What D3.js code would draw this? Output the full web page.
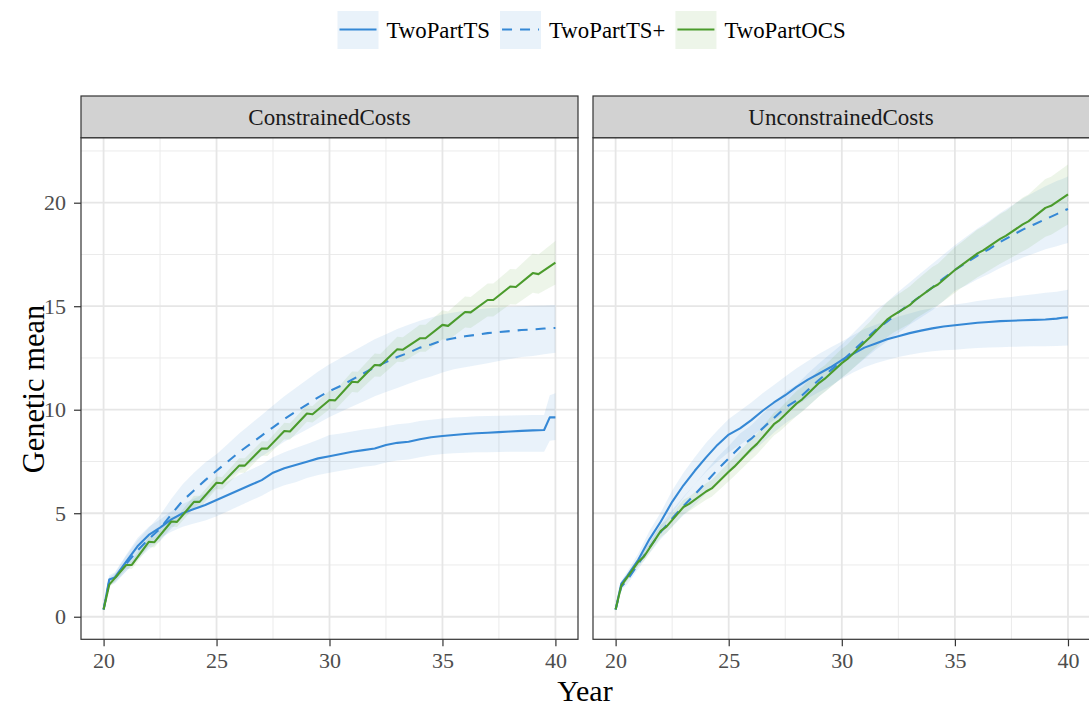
<!DOCTYPE html>
<html><head><meta charset="utf-8">
<script src="https://cdn.jsdelivr.net/npm/d3@7"></script>
<style>
body{margin:0;background:#fff}
text{font-family:"Liberation Serif","Times New Roman",serif}
</style>
</head><body>
<svg id="c" width="1089" height="709"></svg>
<script>
// ---------------- data ----------------
const panelNames = ["ConstrainedCosts", "UnconstrainedCosts"];
const seriesNames = ["TwoPartTS", "TwoPartTS+", "TwoPartOCS"];
const xTicks = [20, 25, 30, 35, 40];
const xMinor = [22.5, 27.5, 32.5, 37.5];
const yTicks = [0, 5, 10, 15, 20];
const yMinor = [2.5, 7.5, 12.5, 17.5, 22.5];
const xLabel = "Year";
const yLabel = "Genetic mean";

const yearsTS = [20,20.25,20.5,21,21.5,22,22.5,23,23.5,24,24.5,25,25.5,26,26.5,27,27.5,28,28.5,29,29.5,30,30.5,31,31.5,32,32.5,33,33.5,34,34.5,35,35.5,36,36.5,37,37.5,38,38.5,39,39.5,39.75,40];
const yearsOCS = [20,20.25,21,21.25,22,22.25,23,23.25,24,24.25,25,25.25,26,26.25,27,27.25,28,28.25,29,29.25,30,30.25,31,31.25,32,32.25,33,33.25,34,34.25,35,35.25,36,36.25,37,37.25,38,38.25,39,39.25,40];

// ConstrainedCosts
const conTS    = [0.35,1.8,1.9,2.66,3.4,3.95,4.3,4.7,5.0,5.2,5.4,5.64,5.88,6.12,6.36,6.6,6.96,7.17,7.33,7.49,7.65,7.75,7.86,7.97,8.05,8.13,8.3,8.4,8.45,8.57,8.67,8.73,8.78,8.83,8.86,8.89,8.92,8.95,8.98,9.0,9.02,9.63,9.63];
const conTSlo  = [0.3,1.6,1.65,2.2,2.8,3.4,3.8,4.1,4.35,4.5,4.65,4.85,5.1,5.35,5.6,5.85,6.15,6.35,6.5,6.7,6.85,6.95,7.05,7.15,7.25,7.3,7.45,7.55,7.6,7.7,7.8,7.86,7.9,7.92,7.94,7.95,7.96,7.97,7.97,7.97,7.97,8.5,8.54];
const conTShi  = [0.4,2.0,2.15,3.0,3.8,4.35,4.7,5.1,5.45,5.7,5.95,6.28,6.55,6.85,7.1,7.35,7.7,7.95,8.15,8.35,8.55,8.78,8.85,8.95,9.05,9.1,9.2,9.3,9.35,9.45,9.52,9.58,9.62,9.65,9.68,9.7,9.71,9.72,9.73,9.74,9.74,10.7,10.8];
const conTSp   = [0.35,1.7,1.85,2.55,3.2,3.75,4.25,4.95,5.6,6.1,6.6,7.05,7.5,7.95,8.35,8.75,9.15,9.55,9.9,10.25,10.6,10.9,11.15,11.45,11.75,12.05,12.3,12.55,12.75,13.0,13.15,13.35,13.45,13.55,13.62,13.7,13.75,13.8,13.85,13.88,13.92,13.94,13.95];
const conTSplo = [0.3,1.5,1.6,2.2,2.75,3.25,3.65,4.25,4.8,5.25,5.7,6.25,6.65,7.05,7.4,7.75,8.1,8.45,8.75,9.05,9.35,9.65,9.9,10.15,10.4,10.65,10.85,11.05,11.25,11.45,11.6,11.8,11.95,12.05,12.15,12.25,12.35,12.45,12.55,12.6,12.68,12.72,12.75];
const conTSphi = [0.4,1.9,2.1,2.95,3.7,4.3,4.9,5.7,6.4,6.95,7.45,7.85,8.35,8.85,9.3,9.75,10.2,10.65,11.05,11.45,11.85,12.2,12.5,12.8,13.1,13.4,13.65,13.9,14.1,14.3,14.45,14.6,14.7,14.78,14.84,14.9,14.94,14.97,15.0,15.02,15.04,15.05,15.06];
const conOCS   = [0.35,1.55,2.5,2.5,3.62,3.6,4.6,4.58,5.55,5.55,6.47,6.45,7.3,7.3,8.13,8.12,8.97,8.95,9.82,9.78,10.47,10.45,11.35,11.33,12.16,12.14,12.92,12.9,13.45,13.45,14.1,14.05,14.72,14.7,15.3,15.3,15.95,15.93,16.6,16.55,17.1];
const conOCSlo = [0.3,1.4,2.3,2.3,3.37,3.35,4.35,4.33,5.25,5.25,6.17,6.15,6.95,6.95,7.78,7.77,8.57,8.55,9.42,9.38,10.02,10.0,10.85,10.83,11.61,11.59,12.32,12.3,12.8,12.8,13.4,13.35,13.97,13.95,14.5,14.5,15.1,15.08,15.65,15.6,16.05];
const conOCShi = [0.4,1.7,2.7,2.7,3.87,3.85,4.85,4.83,5.85,5.85,6.77,6.75,7.65,7.65,8.48,8.47,9.37,9.35,10.22,10.18,10.92,10.9,11.85,11.83,12.71,12.69,13.52,13.5,14.1,14.1,14.8,14.75,15.47,15.45,16.1,16.1,16.8,16.78,17.55,17.5,18.15];

// UnconstrainedCosts
const unTS    = [0.35,1.6,1.95,2.75,3.75,4.6,5.55,6.35,7.05,7.7,8.3,8.8,9.1,9.5,9.95,10.35,10.7,11.1,11.45,11.75,12.05,12.4,12.7,13.0,13.2,13.4,13.55,13.7,13.82,13.93,14.02,14.08,14.14,14.2,14.24,14.28,14.3,14.32,14.34,14.36,14.4,14.44,14.46];
const unTSlo  = [0.3,1.45,1.75,2.45,3.35,4.15,5.0,5.75,6.4,7.0,7.5,7.95,8.3,8.7,9.1,9.5,9.85,10.2,10.55,10.85,11.15,11.5,11.8,12.05,12.25,12.4,12.55,12.65,12.75,12.82,12.87,12.9,12.95,12.98,13.0,13.02,13.04,13.05,13.06,13.07,13.08,13.09,13.1];
const unTShi  = [0.4,1.75,2.15,3.05,4.15,5.05,6.1,6.95,7.7,8.4,9.0,9.55,9.95,10.35,10.8,11.2,11.6,12.0,12.35,12.7,13.0,13.3,13.6,13.9,14.1,14.3,14.5,14.65,14.8,14.9,15.0,15.08,15.15,15.25,15.32,15.4,15.45,15.52,15.58,15.65,15.7,15.75,15.8];
const unTSp   = [0.35,1.45,1.75,2.55,3.35,4.1,4.75,5.35,5.9,6.5,7.1,7.65,8.2,8.6,9.1,9.6,10.1,10.45,10.95,11.45,11.9,12.35,12.85,13.35,13.85,14.25,14.7,15.1,15.5,15.9,16.35,16.75,17.1,17.45,17.75,18.1,18.4,18.7,18.95,19.2,19.45,19.58,19.7];
const unTSplo = [0.3,1.3,1.55,2.3,3.05,3.75,4.35,4.9,5.4,5.95,6.5,7.05,7.55,7.95,8.4,8.9,9.35,9.7,10.15,10.65,11.1,11.55,12.0,12.45,12.9,13.3,13.7,14.1,14.45,14.8,15.25,15.75,16.0,16.3,16.55,16.85,17.1,17.35,17.55,17.75,17.9,17.98,18.05];
const unTSphi = [0.4,1.6,1.95,2.8,3.65,4.45,5.15,5.8,6.4,7.05,7.7,8.25,8.85,9.25,9.8,10.3,10.85,11.2,11.75,12.25,12.7,13.15,13.7,14.25,14.8,15.2,15.7,16.15,16.6,17.05,17.5,17.95,18.35,18.75,19.1,19.5,19.85,20.2,20.5,20.8,21.05,21.15,21.26];
const unOCS   = [0.35,1.5,2.65,2.9,4.15,4.35,5.3,5.45,6.05,6.2,7.0,7.25,8.1,8.35,9.3,9.5,10.3,10.5,11.3,11.5,12.25,12.45,13.25,13.5,14.35,14.55,15.05,15.3,15.9,16.05,16.75,16.95,17.55,17.7,18.25,18.4,18.95,19.1,19.75,19.85,20.4];
const unOCSlo = [0.3,1.35,2.45,2.7,3.85,4.05,4.95,5.1,5.65,5.8,6.55,6.8,7.6,7.85,8.75,8.95,9.7,9.9,10.65,10.85,11.55,11.75,12.5,12.75,13.5,13.7,14.15,14.4,14.9,15.05,15.65,15.85,16.4,16.55,17.05,17.2,17.65,17.8,18.35,18.45,18.95];
const unOCShi = [0.4,1.65,2.85,3.1,4.45,4.65,5.65,5.8,6.45,6.6,7.45,7.7,8.6,8.85,9.85,10.05,10.9,11.1,11.95,12.15,12.95,13.15,14.0,14.25,15.2,15.4,15.95,16.2,16.9,17.05,17.85,18.05,18.7,18.85,19.45,19.6,20.25,20.4,21.15,21.25,21.85];

// ---------------- build table ----------------
function mk(years, m, lo, hi){ return years.map((x,i)=>({x, y:m[i], lo:lo[i], hi:hi[i]})); }
const panelData = [
  [mk(yearsTS, conTS, conTSlo, conTShi), mk(yearsTS, conTSp, conTSplo, conTSphi), mk(yearsOCS, conOCS, conOCSlo, conOCShi)],
  [mk(yearsTS, unTS, unTSlo, unTShi), mk(yearsTS, unTSp, unTSplo, unTSphi), mk(yearsOCS, unOCS, unOCSlo, unOCShi)]
];

// ---------------- style / layout ----------------
const colors = ["#3588d5", "#3588d5", "#4b9b2c"];
const dashes = [null, "10,8", null];
const W = 1089, H = 709;
const panelX = [[81, 578], [593, 1090.6]];
const stripTop = 96, panelTop = 137.7, panelBottom = 639.3;
const FONT = '"Liberation Serif","Times New Roman",serif';
const svg = d3.select("#c");
svg.append("rect").attr("width", W).attr("height", H).attr("fill", "#fff");

const y = d3.scaleLinear().domain([-1.09, 23.14]).range([panelBottom, panelTop]);

panelData.forEach((series, p) => {
  const [x0, x1] = panelX[p];
  const x = d3.scaleLinear().domain([19, 41]).range([x0, x1]);
  const g = svg.append("g");
  g.append("clipPath").attr("id", "clip" + p).append("rect")
    .attr("x", x0).attr("y", panelTop).attr("width", x1 - x0).attr("height", panelBottom - panelTop);

  // grid
  const grid = g.append("g").attr("clip-path", `url(#clip${p})`);
  grid.selectAll(".ymin").data(yMinor).join("line")
    .attr("x1", x0).attr("x2", x1).attr("y1", d => y(d)).attr("y2", d => y(d))
    .attr("stroke", "#ebebeb").attr("stroke-width", 1);
  grid.selectAll(".xmin").data(xMinor).join("line")
    .attr("y1", panelTop).attr("y2", panelBottom).attr("x1", d => x(d)).attr("x2", d => x(d))
    .attr("stroke", "#ebebeb").attr("stroke-width", 1);
  grid.selectAll(".ymaj").data(yTicks).join("line")
    .attr("x1", x0).attr("x2", x1).attr("y1", d => y(d)).attr("y2", d => y(d))
    .attr("stroke", "#e6e6e6").attr("stroke-width", 1.8);
  grid.selectAll(".xmaj").data(xTicks).join("line")
    .attr("y1", panelTop).attr("y2", panelBottom).attr("x1", d => x(d)).attr("x2", d => x(d))
    .attr("stroke", "#e6e6e6").attr("stroke-width", 1.8);

  const data = g.append("g").attr("clip-path", `url(#clip${p})`);
  const area = d3.area().x(d => x(d.x)).y0(d => y(d.lo)).y1(d => y(d.hi));
  const line = d3.line().x(d => x(d.x)).y(d => y(d.y));
  series.forEach((s, i) => {
    data.append("path").attr("d", area(s)).attr("fill", colors[i])
      .attr("fill-opacity", i === 2 ? 0.1 : 0.11);
  });
  series.forEach((s, i) => {
    data.append("path").attr("d", line(s)).attr("fill", "none")
      .attr("stroke", colors[i]).attr("stroke-width", 2.1)
      .attr("stroke-dasharray", dashes[i]).attr("stroke-linejoin", "round");
  });

  // border
  g.append("rect").attr("x", x0).attr("y", panelTop).attr("width", x1 - x0).attr("height", panelBottom - panelTop)
    .attr("fill", "none").attr("stroke", "#333").attr("stroke-width", 1.2);
  // strip
  g.append("rect").attr("x", x0).attr("y", stripTop).attr("width", x1 - x0).attr("height", panelTop - stripTop)
    .attr("fill", "#d2d2d2").attr("stroke", "#333").attr("stroke-width", 1.2);
  g.append("text").attr("x", (x0 + Math.min(x1, 1077)) / 2 + (p === 1 ? 6 : 0)).attr("y", 124.5)
    .attr("text-anchor", "middle").attr("font-size", 23).attr("fill", "#1a1a1a").text(panelNames[p]);

  // x axis
  const xa = g.append("g").attr("transform", `translate(0,${panelBottom})`)
    .call(d3.axisBottom(x).tickValues(xTicks).tickSize(7).tickPadding(6).tickFormat(d3.format("d")));
  xa.select(".domain").remove();
  xa.selectAll("line").attr("stroke", "#333").attr("stroke-width", 1.2);
  xa.selectAll("text").attr("font-size", 22).attr("fill", "#4d4d4d").attr("font-family", FONT);
  if (p === 0) {
    const ya = g.append("g").attr("transform", `translate(${x0},0)`)
      .call(d3.axisLeft(y).tickValues(yTicks).tickSize(7).tickPadding(8).tickFormat(d3.format("d")));
    ya.select(".domain").remove();
    ya.selectAll("line").attr("stroke", "#333").attr("stroke-width", 1.2);
    ya.selectAll("text").attr("font-size", 22).attr("fill", "#4d4d4d").attr("font-family", FONT);
  }
});

// axis titles
svg.append("text").attr("x", 585).attr("y", 701).attr("text-anchor", "middle")
  .attr("font-size", 30).attr("fill", "#000").text(xLabel);
svg.append("text").attr("transform", "translate(44,389) rotate(-90)").attr("text-anchor", "middle")
  .attr("font-size", 30.5).attr("fill", "#000").text(yLabel);

// legend
const lg = svg.append("g");
let lx = 337.5;
seriesNames.forEach((name, i) => {
  lg.append("rect").attr("x", lx).attr("y", 11).attr("width", 41).attr("height", 38)
    .attr("fill", colors[i]).attr("fill-opacity", i === 2 ? 0.1 : 0.11);
  lg.append("line").attr("x1", lx + 2).attr("x2", lx + 39).attr("y1", 29.5).attr("y2", 29.5)
    .attr("stroke", colors[i]).attr("stroke-width", 2.1).attr("stroke-dasharray", dashes[i]);
  const t = lg.append("text").attr("x", lx + 49).attr("y", 37.5).attr("font-size", 22.8)
    .attr("fill", "#000").text(name);
  lx = lx + 49 + t.node().getComputedTextLength() + 10;
});
</script>
</body></html>
